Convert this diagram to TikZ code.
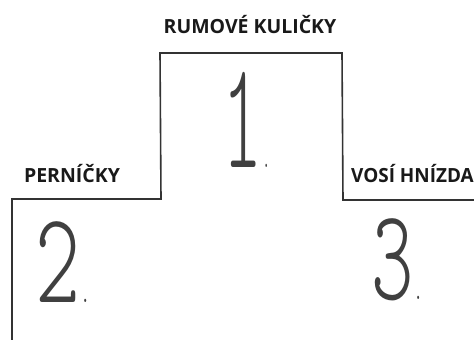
\documentclass[tikz,border=0pt]{standalone}
\usepackage{fontspec}
\newfontfamily\labelfont{Open Sans}[BoldFont={* Bold}]
\newcommand\smalldot{{\fontsize{30}{30}\selectfont .}}
\begin{document}
\begin{tikzpicture}[x=1pt,y=-1pt,
  podium/.style={draw=black!80,line width=1.6pt,line join=miter},
  lbl/.style={font=\labelfont\bfseries\fontsize{19.5}{20}\selectfont,inner sep=0pt,anchor=base,text=black!90},
  digit/.style={font=\fontseries{l}\ttfamily\fontsize{130}{130}\selectfont,inner sep=0pt,anchor=base west,text=black!75}
]
\useasboundingbox (0,0) rectangle (474,340);
\fill[white] (0,0) rectangle (474,340);
% podium outline
\coordinate (lb) at (12,340);
\coordinate (lt) at (12,199);
\coordinate (cl) at (161,199);
\coordinate (tl) at (160,53);
\coordinate (tr) at (342,53);
\coordinate (cr) at (343,200);
\coordinate (re) at (474,200);
\draw[podium] (lb) -- (lt) -- (cl) -- (tl) -- (tr) -- (cr) -- (re);
% labels
\node[lbl] (first) at (250,33) {RUMOVÉ KULIČKY};
\node[lbl] (second) at (72,182) {PERNÍČKY};
\node[lbl,anchor=base west,xscale=0.97] (third) at (351,182) {VOSÍ HNÍZDA};
% places
\node[digit,font=\fontseries{l}\ttfamily\fontsize{153}{153}\selectfont,xscale=0.5] (n1) at (222,167) {1\smalldot};
\node[digit,xscale=0.66] (n2) at (35,302) {2\smalldot};
\node[digit,xscale=0.62] (n3) at (371,299) {3\smalldot};
\end{tikzpicture}
\end{document}
